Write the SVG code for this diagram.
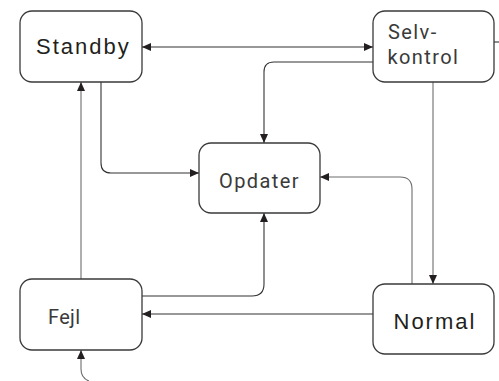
<svg xmlns="http://www.w3.org/2000/svg" width="499" height="381" viewBox="0 0 499 381">
<defs>
<marker id="ah" markerUnits="userSpaceOnUse" markerWidth="10" markerHeight="8" refX="9" refY="4" orient="auto-start-reverse">
<path d="M0,0 L9,4 L0,8 Z" fill="#231f20"/>
</marker>
</defs>
<style>
.box{fill:#fff;stroke:#3a3a3a;stroke-width:1.3}
.c{fill:none;stroke:#333;stroke-width:1.1}
.g{fill:none;stroke:#6d6d6d;stroke-width:1.1}
.a{font-family:"Liberation Sans",Arial,sans-serif;font-size:22px;letter-spacing:2px;fill:#231f20}
.o{font-family:Roboto,"Open Sans",sans-serif;font-size:20px;letter-spacing:1.4px;fill:#3a3a3a}
</style>
<g id="connectors">
<path class="c" d="M142 47 L373 47" marker-start="url(#ah)" marker-end="url(#ah)"/>
<path class="c" d="M373 62 L274 62 Q264 62 264 72 L264 143" marker-end="url(#ah)"/>
<path class="c" d="M101 82 L101 163 Q101 173 111 173 L199 173" marker-end="url(#ah)"/>
<path class="g" d="M81 279 L81 82" marker-end="url(#ah)"/>
<path class="g" d="M433 82 L433 284" marker-end="url(#ah)"/>
<path class="g" d="M412 284 L412 189 Q412 177 400 177 L320 177" marker-end="url(#ah)"/>
<path class="c" d="M142 296 L252 296 Q264 296 264 284 L264 213" marker-end="url(#ah)"/>
<path class="c" d="M373 314 L142 314" marker-end="url(#ah)"/>
<path class="g" d="M89 381 Q81 378 81 369 L81 350" marker-end="url(#ah)"/>
<path class="c" d="M494 42 L499 42"/>
</g>
<g id="standby">
<rect class="box" x="20" y="11" width="122" height="71" rx="12"/>
<text class="a" x="36" y="54">Standby</text>
</g>
<g id="selvkontrol">
<rect class="box" x="373" y="11" width="121" height="71" rx="12"/>
<text class="o"><tspan x="388" y="39">Selv-</tspan><tspan x="387.5" y="63.5">kontrol</tspan></text>
</g>
<g id="opdater">
<rect class="box" x="199" y="143" width="121" height="70" rx="12"/>
<text class="o" x="219" y="188">Opdater</text>
</g>
<g id="fejl">
<rect class="box" x="20" y="279" width="122" height="71" rx="12"/>
<text class="o" x="48" y="324" style="letter-spacing:0.3px">Fejl</text>
</g>
<g id="normal">
<rect class="box" x="373" y="284" width="121" height="70" rx="12"/>
<text class="a" x="393.5" y="329">Normal</text>
</g>
</svg>
